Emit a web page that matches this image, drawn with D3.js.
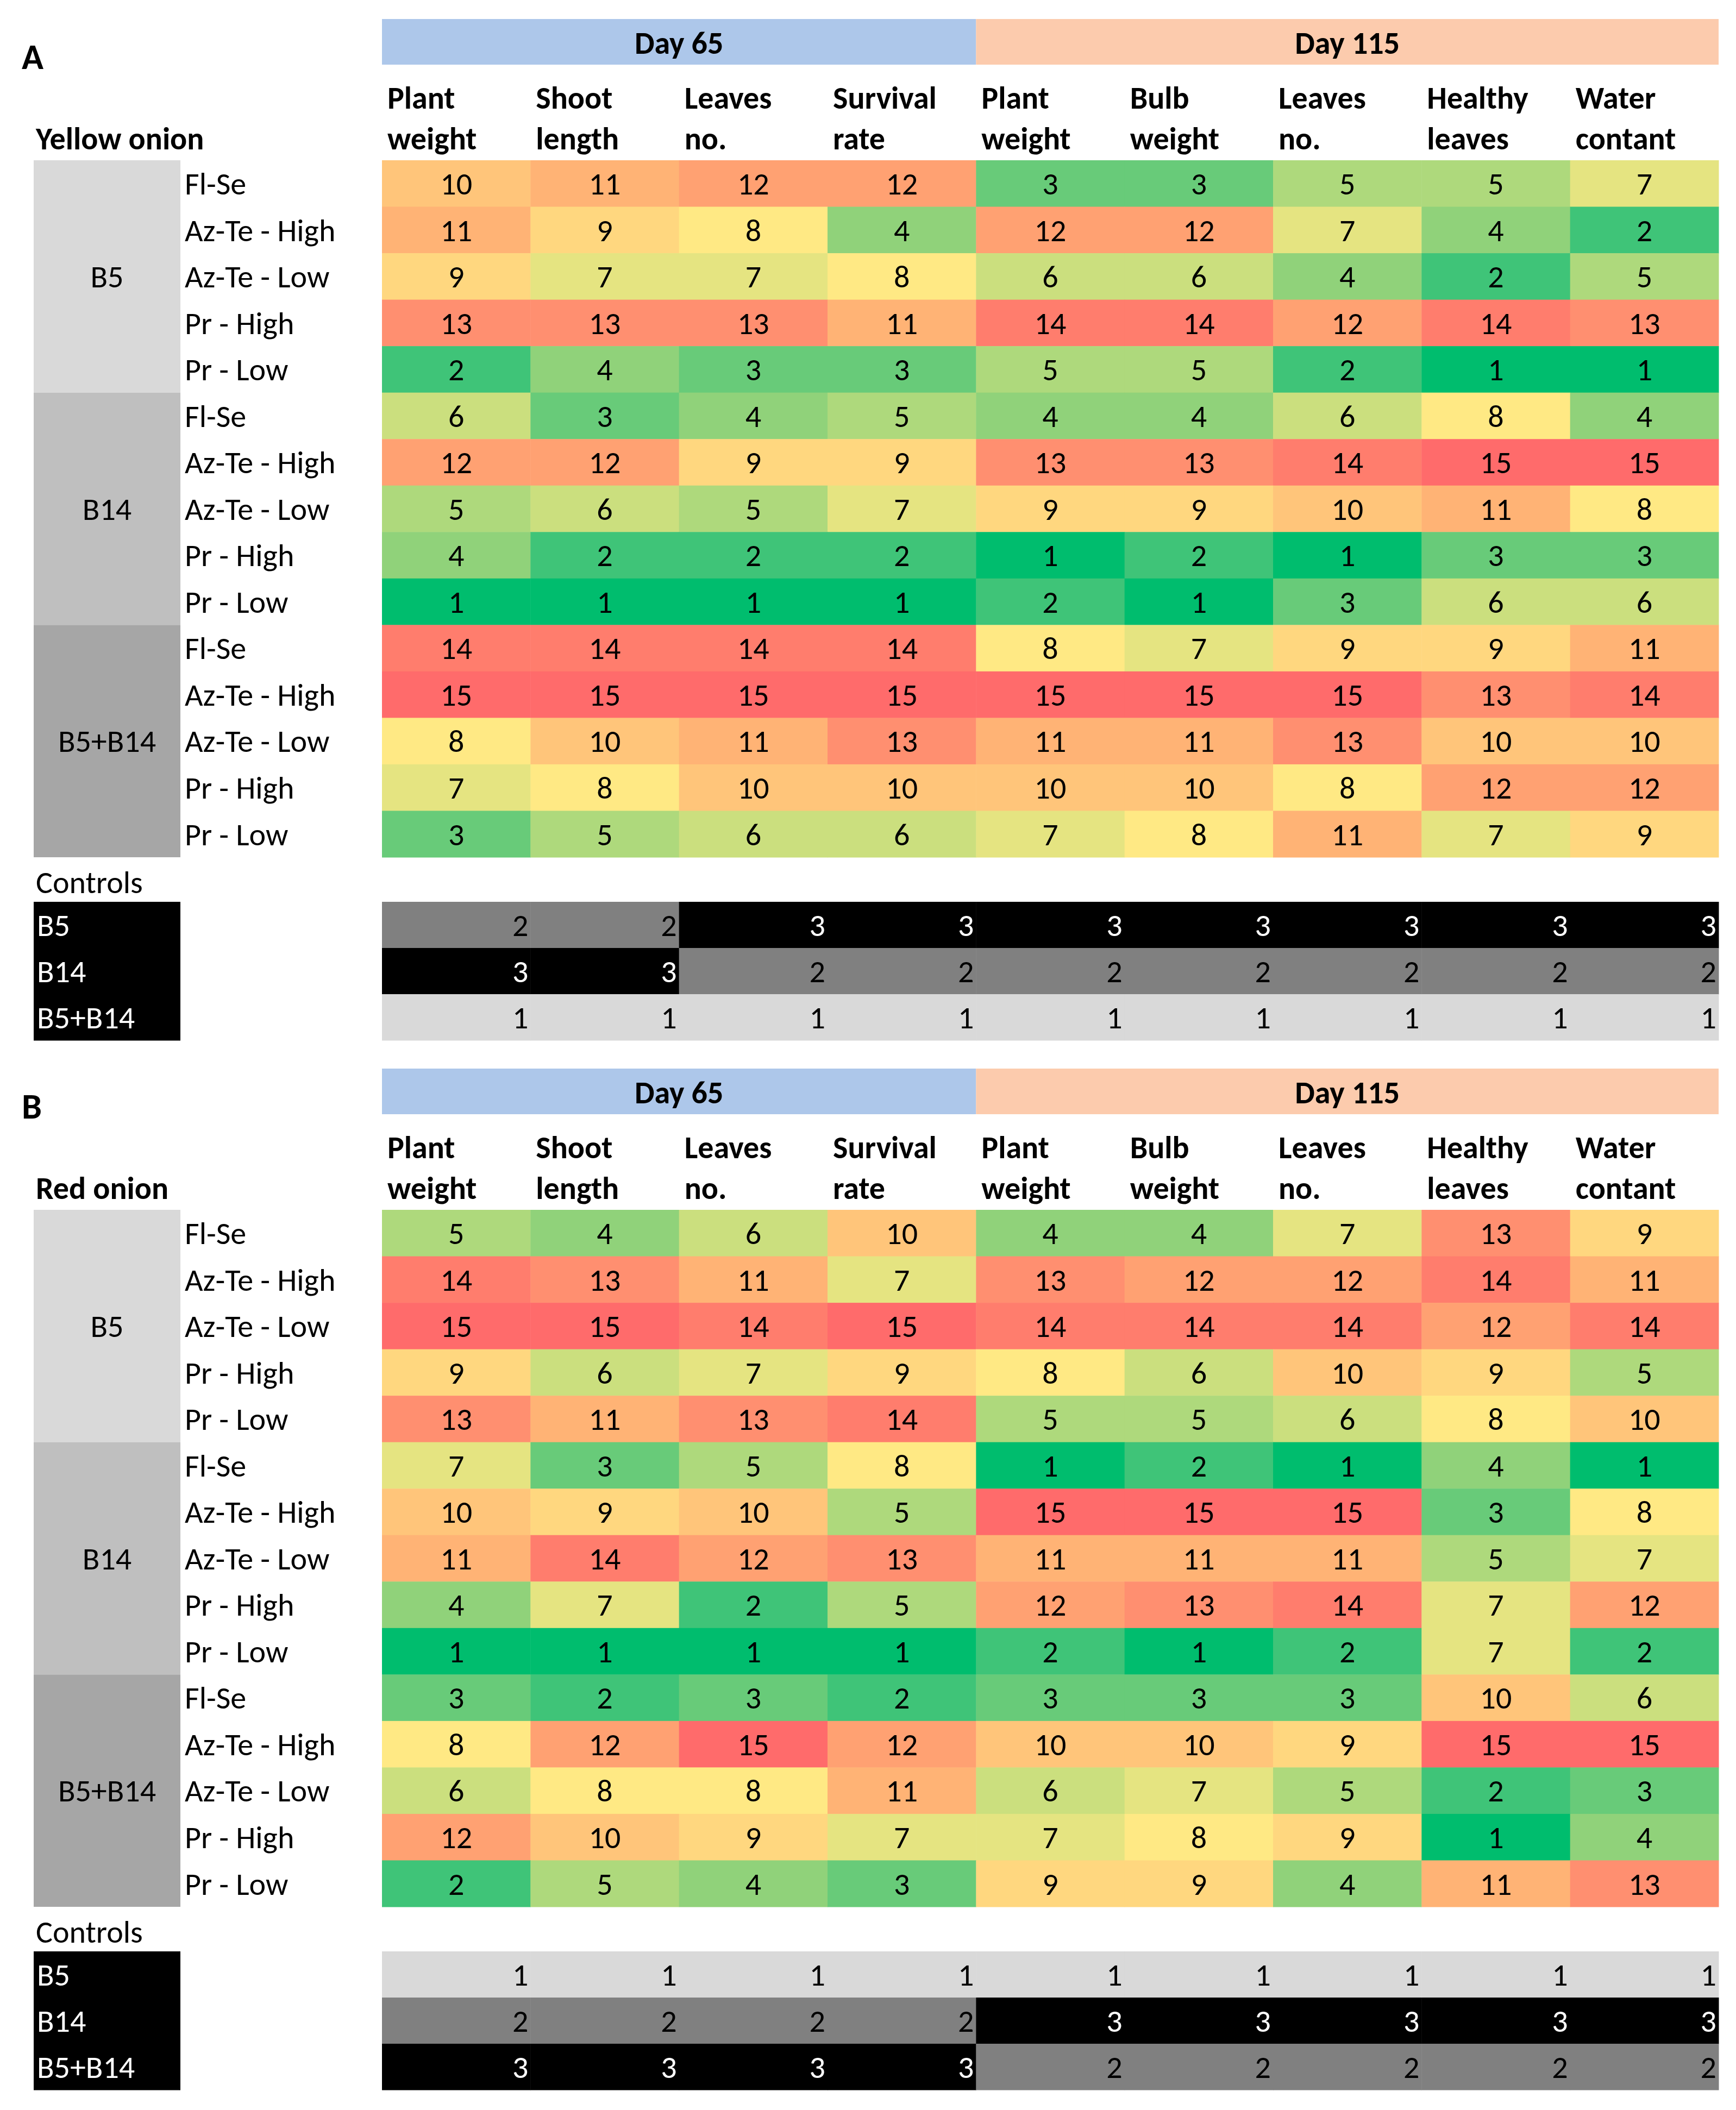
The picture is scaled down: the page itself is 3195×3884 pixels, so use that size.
<!DOCTYPE html>
<html>
<head>
<meta charset="utf-8">
<script src="https://cdn.jsdelivr.net/npm/d3@7"></script>
<style>
  body { margin: 0; background: #fff; }
  text { font-family: Carlito, Calibri, Lato, sans-serif; font-size: 58px; fill: #000; }
  .bold { font-weight: bold; }
</style>
</head>
<body>
<svg id="chart" width="3195" height="3884"></svg>
<script>
// column headers (two lines each), day blocks and row labels
const colLines = [["Plant","weight"],["Shoot","length"],["Leaves","no."],["Survival","rate"],
                  ["Plant","weight"],["Bulb","weight"],["Leaves","no."],["Healthy","leaves"],["Water","contant"]];
const days = ["Day 65", "Day 115"];
const daySpans = [4, 5];
const groups = ["B5", "B14", "B5+B14"];
const treatments = ["Fl-Se", "Az-Te - High", "Az-Te - Low", "Pr - High", "Pr - Low"];
const controlLabels = ["B5", "B14", "B5+B14"];

// ranks, yellow onion (panel A)
const yellowRanks = [
  [10, 11, 12, 12, 3, 3, 5, 5, 7],
  [11, 9, 8, 4, 12, 12, 7, 4, 2],
  [9, 7, 7, 8, 6, 6, 4, 2, 5],
  [13, 13, 13, 11, 14, 14, 12, 14, 13],
  [2, 4, 3, 3, 5, 5, 2, 1, 1],
  [6, 3, 4, 5, 4, 4, 6, 8, 4],
  [12, 12, 9, 9, 13, 13, 14, 15, 15],
  [5, 6, 5, 7, 9, 9, 10, 11, 8],
  [4, 2, 2, 2, 1, 2, 1, 3, 3],
  [1, 1, 1, 1, 2, 1, 3, 6, 6],
  [14, 14, 14, 14, 8, 7, 9, 9, 11],
  [15, 15, 15, 15, 15, 15, 15, 13, 14],
  [8, 10, 11, 13, 11, 11, 13, 10, 10],
  [7, 8, 10, 10, 10, 10, 8, 12, 12],
  [3, 5, 6, 6, 7, 8, 11, 7, 9]
];
const yellowControls = [
  [2, 2, 3, 3, 3, 3, 3, 3, 3],
  [3, 3, 2, 2, 2, 2, 2, 2, 2],
  [1, 1, 1, 1, 1, 1, 1, 1, 1]
];

// ranks, red onion (panel B)
const redRanks = [
  [5, 4, 6, 10, 4, 4, 7, 13, 9],
  [14, 13, 11, 7, 13, 12, 12, 14, 11],
  [15, 15, 14, 15, 14, 14, 14, 12, 14],
  [9, 6, 7, 9, 8, 6, 10, 9, 5],
  [13, 11, 13, 14, 5, 5, 6, 8, 10],
  [7, 3, 5, 8, 1, 2, 1, 4, 1],
  [10, 9, 10, 5, 15, 15, 15, 3, 8],
  [11, 14, 12, 13, 11, 11, 11, 5, 7],
  [4, 7, 2, 5, 12, 13, 14, 7, 12],
  [1, 1, 1, 1, 2, 1, 2, 7, 2],
  [3, 2, 3, 2, 3, 3, 3, 10, 6],
  [8, 12, 15, 12, 10, 10, 9, 15, 15],
  [6, 8, 8, 11, 6, 7, 5, 2, 3],
  [12, 10, 9, 7, 7, 8, 9, 1, 4],
  [2, 5, 4, 3, 9, 9, 4, 11, 13]
];
const redControls = [
  [1, 1, 1, 1, 1, 1, 1, 1, 1],
  [2, 2, 2, 2, 3, 3, 3, 3, 3],
  [3, 3, 3, 3, 2, 2, 2, 2, 2]
];

const dayColors = ["#adc7ea", "#fccbad"];
const groupColors = ["#d9d9d9", "#bfbfbf", "#a6a6a6"];
// green -> yellow -> red, greens lean towards yellow quickly like the original
const heat = d3.scaleLinear()
    .domain([1, 2, 4, 6, 8, 11.5, 15])
    .range(["#00bd6e", "#3fc478", "#90d27a", "#cbdf7e", "#ffe984", "#ffaa73", "#ff6b6b"]);
const ctrlFill = d3.scaleOrdinal().domain([1, 2, 3]).range(["#d9d9d9", "#808080", "#000000"]);

const svg = d3.select("#chart");

drawPanel(0, "A", "Yellow onion", yellowRanks, yellowControls);
drawPanel(1932, "B", "Red onion", redRanks, redControls);

function drawPanel(offsetY, letter, title, ranks, controls) {
    let g = svg.append("g").attr("transform", "translate(0," + offsetY + ")");

    let x = d3.scaleBand().domain(d3.range(colLines.length)).range([703, 3163]);
    let y = d3.scaleBand().domain(d3.range(ranks.length)).range([295, 1578]);
    let yc = d3.scaleBand().domain(d3.range(controls.length)).range([1660, 1915]);

    g.append("text").attr("class", "bold").attr("x", 40).attr("y", 127)
        .style("font-size", "66px").text(letter);

    // day header bars
    let start = 0;
    days.forEach(function(d, i) {
        let x0 = x(start), x1 = x(start + daySpans[i] - 1) + x.bandwidth();
        g.append("rect").attr("x", x0).attr("y", 35).attr("width", x1 - x0).attr("height", 84)
            .attr("fill", dayColors[i]);
        g.append("text").attr("class", "bold").attr("x", (x0 + x1) / 2).attr("y", 79)
            .attr("dy", "0.35em").attr("text-anchor", "middle").text(d);
        start += daySpans[i];
    });

    // column headers
    colLines.forEach(function(lines, c) {
        lines.forEach(function(l, k) {
            g.append("text").attr("class", "bold").attr("x", x(c) + 10).attr("y", 200 + k * 75).text(l);
        });
    });

    g.append("text").attr("class", "bold").attr("x", 66).attr("y", 275).text(title);

    // group boxes
    groups.forEach(function(gr, i) {
        let top = y(i * treatments.length);
        let bottom = y(i * treatments.length + treatments.length - 1) + y.bandwidth();
        g.append("rect").attr("x", 62).attr("y", top).attr("width", 270).attr("height", bottom - top)
            .attr("fill", groupColors[i]);
        g.append("text").attr("x", 197).attr("y", (top + bottom) / 2).attr("dy", "0.35em")
            .attr("text-anchor", "middle").text(gr);
    });

    // treatment labels
    g.selectAll(".trt").data(d3.range(ranks.length)).enter().append("text")
        .attr("class", "trt").attr("x", 340).attr("y", function(d) { return y(d) + y.bandwidth() / 2; })
        .attr("dy", "0.35em").text(function(d) { return treatments[d % treatments.length]; });

    // heatmap cells
    let cells = [];
    ranks.forEach(function(row, r) { row.forEach(function(v, c) { cells.push({r: r, c: c, v: v}); }); });

    g.selectAll(".cell").data(cells).enter().append("rect").attr("class", "cell")
        .attr("x", function(d) { return x(d.c); }).attr("y", function(d) { return y(d.r); })
        .attr("width", x.bandwidth() + 0.5).attr("height", y.bandwidth() + 0.5)
        .attr("fill", function(d) { return heat(d.v); });

    g.selectAll(".val").data(cells).enter().append("text").attr("class", "val")
        .attr("x", function(d) { return x(d.c) + x.bandwidth() / 2; })
        .attr("y", function(d) { return y(d.r) + y.bandwidth() / 2; })
        .attr("dy", "0.35em").attr("text-anchor", "middle").text(function(d) { return d.v; });

    // controls
    g.append("text").attr("x", 66).attr("y", 1644).text("Controls");

    controlLabels.forEach(function(l, i) {
        g.append("rect").attr("x", 62).attr("y", yc(i)).attr("width", 270).attr("height", yc.bandwidth() + 0.5)
            .attr("fill", "#000");
        g.append("text").attr("x", 68).attr("y", yc(i) + yc.bandwidth() / 2).attr("dy", "0.35em")
            .style("fill", "#fff").text(l);
    });

    let ctrl = [];
    controls.forEach(function(row, r) { row.forEach(function(v, c) { ctrl.push({r: r, c: c, v: v}); }); });

    g.selectAll(".ccell").data(ctrl).enter().append("rect").attr("class", "ccell")
        .attr("x", function(d) { return x(d.c); }).attr("y", function(d) { return yc(d.r); })
        .attr("width", x.bandwidth() + 0.5).attr("height", yc.bandwidth() + 0.5)
        .attr("fill", function(d) { return ctrlFill(d.v); });

    g.selectAll(".cval").data(ctrl).enter().append("text").attr("class", "cval")
        .attr("x", function(d) { return x(d.c) + x.bandwidth() - 4; })
        .attr("y", function(d) { return yc(d.r) + yc.bandwidth() / 2; })
        .attr("dy", "0.35em").attr("text-anchor", "end")
        .style("fill", function(d) { return d.v === 3 ? "#fff" : "#000"; })
        .text(function(d) { return d.v; });
}
</script>
</body>
</html>
